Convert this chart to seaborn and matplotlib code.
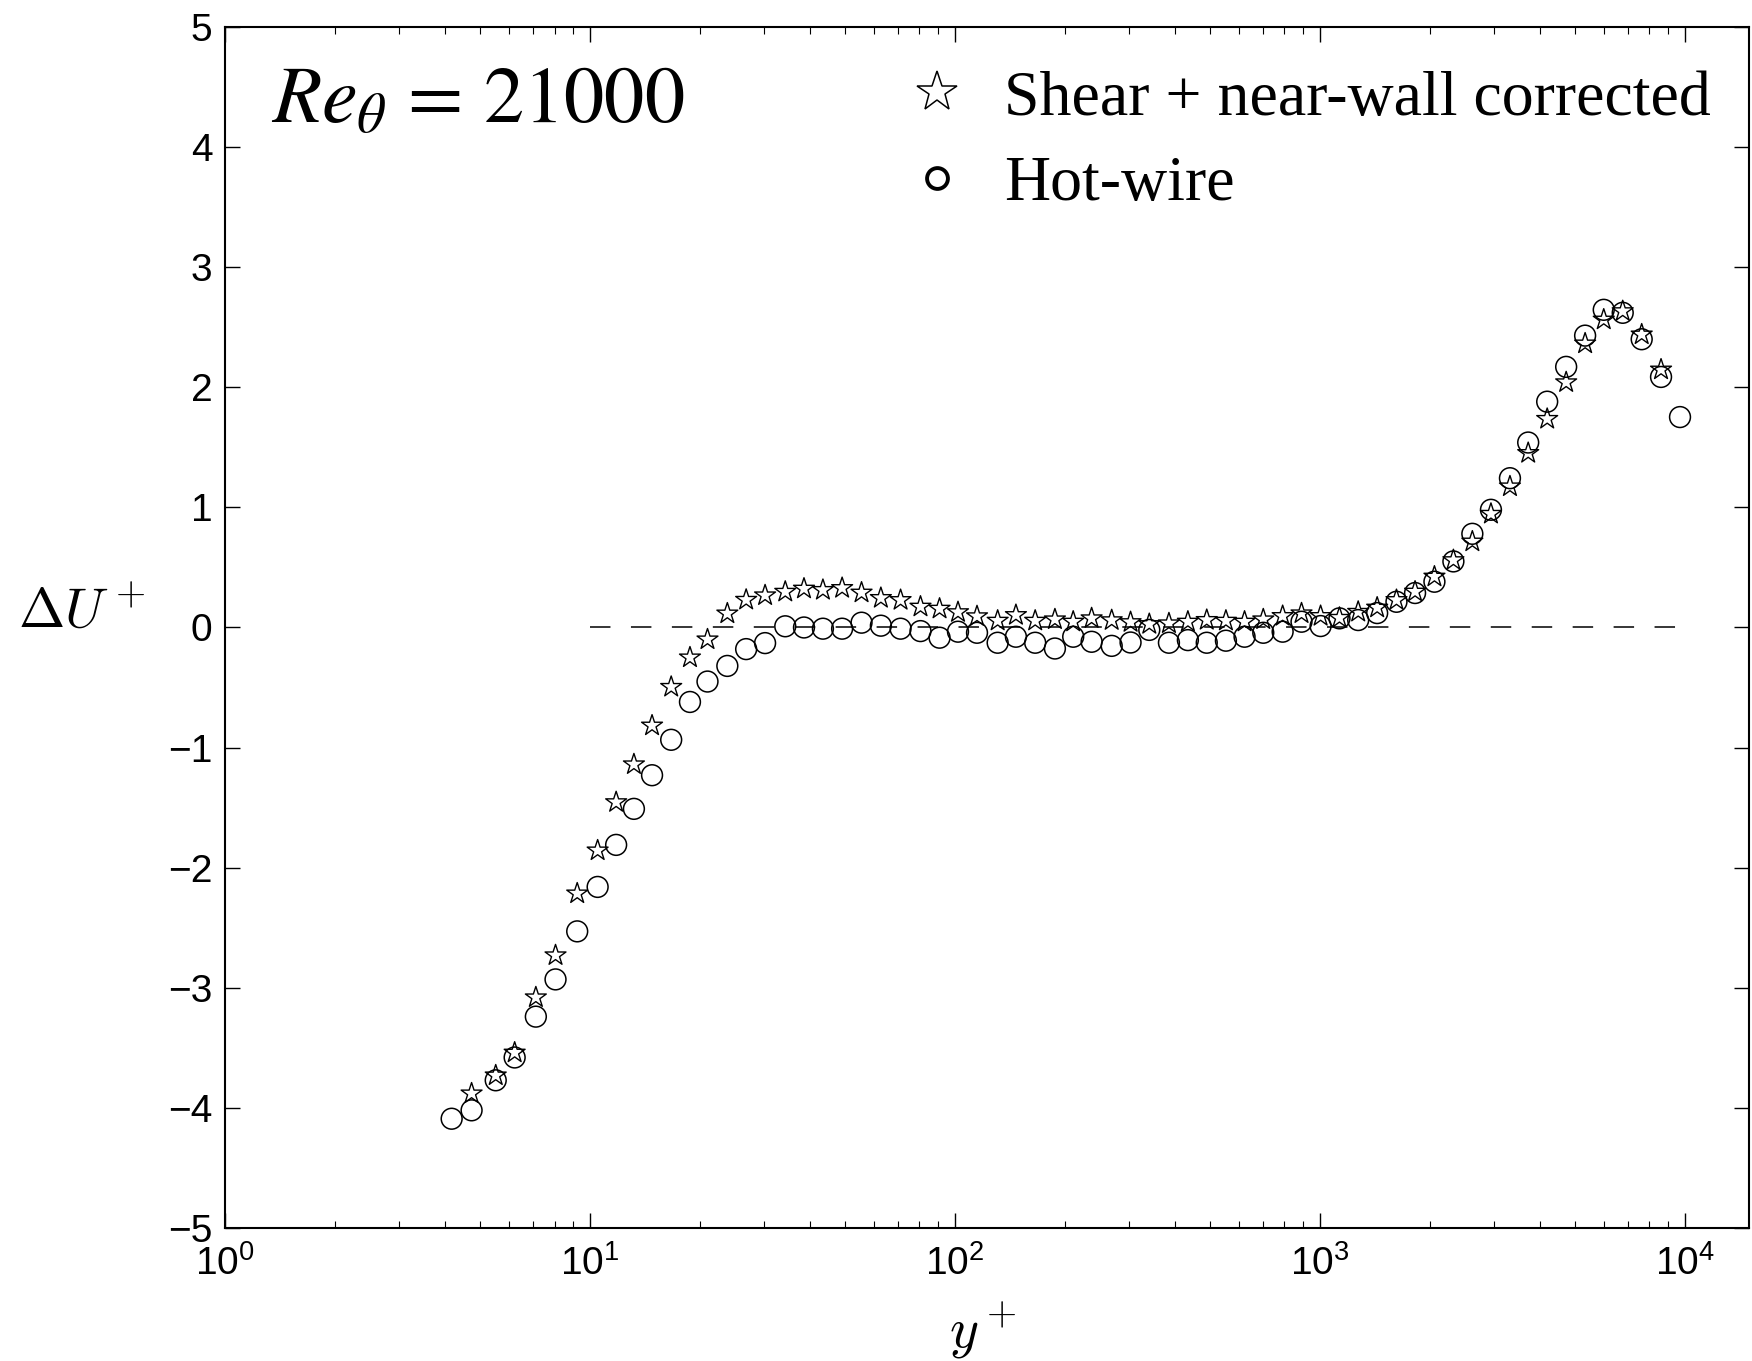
import matplotlib
matplotlib.use("Agg")
import matplotlib.pyplot as plt
from matplotlib.lines import Line2D
import seaborn as sns

# hot-wire profile (circles)
yplus_hw = [4.18, 4.74, 5.52, 6.22, 7.11, 8.05, 9.23, 10.5, 11.8, 13.2, 14.8, 16.7,
            18.8, 21.0, 23.8, 26.8, 30.2, 34.3, 38.6, 43.5, 49.1, 55.5, 62.7, 71.0,
            80.5, 90.8, 102, 115, 131, 147, 166, 188, 211, 237, 269, 303,
            341, 386, 435, 490, 553, 622, 700, 791, 891, 1005, 1132,
            1274, 1436, 1622, 1824, 2061, 2323, 2618, 2944, 3319, 3724, 4198,
            4732, 5333, 5998, 6761, 7621, 8610, 9705]
du_hw = [-4.09, -4.02, -3.77, -3.58, -3.24, -2.93, -2.53, -2.16, -1.81, -1.51, -1.23, -0.935,
         -0.62, -0.45, -0.32, -0.18, -0.13, 0.01, 0.0, -0.01, -0.01, 0.04, 0.015, -0.01,
         -0.03, -0.085, -0.035, -0.044, -0.127, -0.077, -0.127, -0.175, -0.077, -0.119, -0.153, -0.125,
         -0.02, -0.127, -0.105, -0.127, -0.11, -0.077, -0.044, -0.035, 0.048, 0.012, 0.076,
         0.062, 0.12, 0.214, 0.287, 0.381, 0.55, 0.78, 0.98, 1.243, 1.54, 1.88,
         2.17, 2.43, 2.645, 2.62, 2.40, 2.086, 1.752]

# shear + near-wall corrected profile (stars)
yplus_corr = [4.74, 5.52, 6.22, 7.11, 8.05, 9.23, 10.5, 11.8, 13.2, 14.8, 16.7,
              18.8, 21.0, 23.8, 26.8, 30.2, 34.3, 38.6, 43.5, 49.1, 55.5, 62.7, 71.0,
              80.5, 90.8, 102, 115, 131, 147, 166, 188, 211, 237, 269, 303,
              341, 386, 435, 490, 553, 622, 700, 791, 891, 1005, 1132,
              1274, 1436, 1622, 1824, 2061, 2323, 2618, 2944, 3319, 3724, 4198,
              4732, 5333, 5998, 6761, 7621, 8610]
du_corr = [-3.88, -3.73, -3.54, -3.08, -2.73, -2.215, -1.857, -1.455, -1.14, -0.817, -0.495,
           -0.25, -0.10, 0.116, 0.23, 0.267, 0.297, 0.323, 0.312, 0.328, 0.29, 0.245, 0.228,
           0.173, 0.156, 0.127, 0.093, 0.056, 0.103, 0.056, 0.067, 0.048, 0.076, 0.06, 0.044,
           0.028, 0.034, 0.048, 0.062, 0.056, 0.048, 0.067, 0.095, 0.117, 0.095, 0.08,
           0.13, 0.165, 0.228, 0.298, 0.423, 0.56, 0.715, 0.946, 1.174, 1.452, 1.736,
           2.041, 2.364, 2.563, 2.633, 2.439, 2.147]

ref_x = [10, 1e4]
ref_y = [0, 0]

sns.set_theme(style="ticks", rc={
    "text.color": "black",
    "axes.labelcolor": "black",
    "xtick.color": "black",
    "ytick.color": "black",
    "axes.edgecolor": "black",
})
plt.rcParams["font.family"] = ["Liberation Sans", "DejaVu Sans"]
plt.rcParams["axes.linewidth"] = 1.5

fig = plt.figure(figsize=(17.52, 13.61), dpi=100)
ax = fig.add_axes([0.1284, 0.0977, 0.8699, 0.8825])

ax.plot(ref_x, ref_y, color="black", lw=1.1, linestyle=(0, (13.4, 13.4)))

sns.scatterplot(x=yplus_hw, y=du_hw, marker="o", s=225, facecolor="none",
                edgecolor="black", linewidth=1.1, ax=ax, zorder=3)
sns.scatterplot(x=yplus_corr, y=du_corr, marker="*", s=250, facecolor="none",
                edgecolor="black", linewidth=1.0, ax=ax, zorder=4)

ax.set_xscale("log")
ax.set_xlim(1, 1.5e4)
ax.set_ylim(-5, 5)
ax.set_yticks(range(-5, 6))
for s in ax.spines.values():
    s.set_color("black")
    s.set_linewidth(1.5)
ax.tick_params(which="both", direction="in", top=True, right=True, colors="black")
ax.tick_params(which="major", length=10.5, width=1.0, labelsize=28, pad=9)
ax.tick_params(which="minor", length=5, width=0.8)
ax.tick_params(axis="x", which="major", pad=12)

ax.set_ylabel(r"$\Delta U^+$", rotation=0, fontsize=40, math_fontfamily="cm")
ax.yaxis.label.set_ha("left")
ax.yaxis.label.set_va("baseline")
ax.yaxis.set_label_coords(-0.1358, 0.5008)
ax.set_xlabel(r"$y^+$", fontsize=40, math_fontfamily="cm")
ax.xaxis.label.set_va("baseline")
ax.xaxis.set_label_coords(0.497, -0.099)

fig.text(0.1547, 0.9098, r"$Re_\theta$ = 21000", fontsize=58, family="STIXGeneral",
         math_fontfamily="stix", va="baseline", ha="left")

handles = [Line2D([], [], marker="*", ls="none", markersize=30, mfc="none", mec="black", mew=1.1),
           Line2D([], [], marker="o", ls="none", markersize=15, mfc="none", mec="black", mew=2.8)]
ax.legend(handles, ["Shear + near-wall corrected", "Hot-wire"], loc="upper left",
          bbox_to_anchor=(0.5166, 0.9485), bbox_transform=fig.transFigure,
          frameon=False, borderpad=0, borderaxespad=0, handlelength=1.0, handletextpad=0.55,
          labelspacing=0.42, prop={"family": ["Liberation Serif"], "size": 46})

fig.savefig("out.png", dpi=100)
